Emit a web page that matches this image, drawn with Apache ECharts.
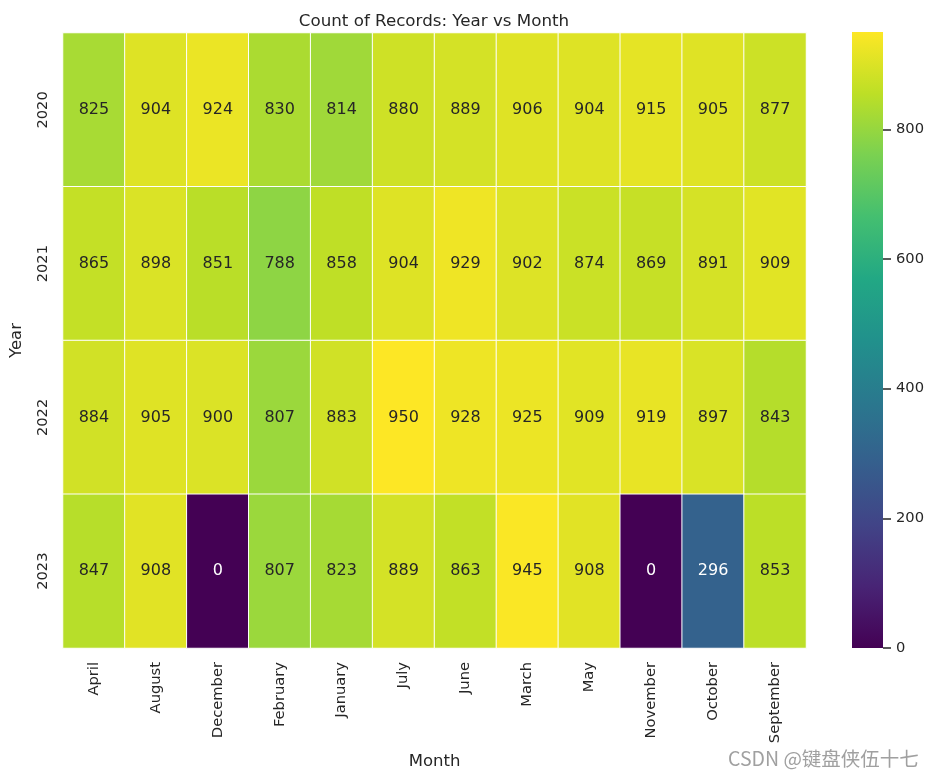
<!DOCTYPE html>
<html><head><meta charset="utf-8">
<script src="https://cdn.jsdelivr.net/npm/echarts@6/dist/echarts.min.js"></script>
<style>html,body{margin:0;padding:0;background:#fff}#c{width:935px;height:780px}</style>
</head><body><div id="c"></div>
<script>
const months = ['April','August','December','February','January','July','June','March','May','November','October','September'];
const years = ['2020','2021','2022','2023'];
const v2020 = [825,904,924,830,814,880,889,906,904,915,905,877];
const v2021 = [865,898,851,788,858,904,929,902,874,869,891,909];
const v2022 = [884,905,900,807,883,950,928,925,909,919,897,843];
const v2023 = [847,908,0,807,823,889,863,945,908,0,296,853];
const colorTicks = [0,200,400,600,800];
const viridis = ['#440154','#482475','#414487','#355f8d','#2a788e','#21918c','#22a884','#44bf70','#7ad151','#bddf26','#fde725'];

const rows = [v2020, v2021, v2022, v2023];
const data = [];
rows.forEach((r, yi) => r.forEach((v, xi) => {
  data.push({value: [xi, yi, v], label: {color: v < 500 ? '#ffffff' : '#262626'}});
}));
const font = 'DejaVu Sans';
const chart = echarts.init(document.getElementById('c'));
const gradStops = viridis.map((c, i) => ({offset: 1 - i / (viridis.length - 1), color: c})).reverse();
chart.setOption({
  backgroundColor: '#fff',
  animation: false,
  textStyle: {fontFamily: font},
  title: {text: 'Count of Records: Year vs Month', left: 429, top: 8, textAlign: 'center',
    textStyle: {fontFamily: font, fontSize: 16.7, fontWeight: 'normal', color: '#262626'}},
  grid: [
    {left: 63, right: 129, top: 33, bottom: 132},
    {left: 852, width: 31, top: 32, height: 616, show: false}
  ],
  xAxis: [
    {type: 'category', data: months, gridIndex: 0, name: 'Month', nameLocation: 'middle', nameGap: 105,
      nameTextStyle: {fontSize: 16.5, color: '#262626', fontFamily: font},
      axisLine: {show: false}, axisTick: {show: false}, splitLine: {show: false},
      axisLabel: {rotate: 90, fontSize: 14.7, color: '#262626', margin: 14, fontFamily: font}},
    {type: 'category', data: ['cb'], gridIndex: 1, show: false}
  ],
  yAxis: [
    {type: 'category', data: years, inverse: true, gridIndex: 0, name: 'Year', nameLocation: 'middle', nameGap: 38,
      nameTextStyle: {fontSize: 16.5, color: '#262626', fontFamily: font},
      axisLine: {show: false}, axisTick: {show: false}, splitLine: {show: false},
      axisLabel: {rotate: 90, fontSize: 14.7, color: '#262626', margin: 12, fontFamily: font}},
    {type: 'value', gridIndex: 1, min: 0, max: 950, interval: 200, position: 'right',
      axisLine: {show: false, onZero: false}, splitLine: {show: false},
      axisTick: {show: true, length: 8, customValues: colorTicks, lineStyle: {color: '#262626', width: 1.5}},
      axisLabel: {fontSize: 14.7, color: '#262626', margin: 13, fontFamily: font, customValues: colorTicks}}
  ],
  visualMap: {
    type: 'continuous', min: 0, max: 950, show: false,
    inRange: {color: viridis}, seriesIndex: 0
  },
  graphic: [
    {type: 'rect', left: 852, top: 32, shape: {width: 31, height: 616},
      style: {fill: new echarts.graphic.LinearGradient(0, 0, 0, 1, gradStops), stroke: null, lineWidth: 0}, z: -1},
    {type: 'text', left: 728, top: 749,
      style: {text: 'CSDN @键盘侠伍十七', fontSize: 19.5, fill: '#a0a0a0', fontFamily: 'Noto Sans CJK SC'}}
  ],
  series: [{
    type: 'heatmap', xAxisIndex: 0, yAxisIndex: 0, data: data,
    itemStyle: {borderColor: '#ffffff', borderWidth: 1},
    label: {show: true, fontSize: 16, fontFamily: font, formatter: p => p.value[2]}
  }]
});
</script></body></html>
